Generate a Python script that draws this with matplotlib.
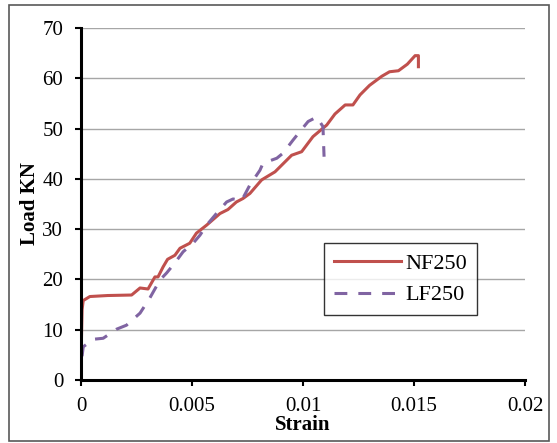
import matplotlib.pyplot as plt
from matplotlib.patches import Rectangle

# NF250 (solid red)
nf_strain = [0, 0.00002, 0.00005, 0.0001, 0.0004, 0.0012, 0.00228, 0.00266, 0.00302,
             0.00333, 0.00347, 0.0037, 0.0039, 0.00423, 0.00446, 0.0049, 0.0052,
             0.00566, 0.00626, 0.00662, 0.007, 0.0073, 0.00761, 0.00806, 0.00814,
             0.00874, 0.00949, 0.00994, 0.01045, 0.01107, 0.01144, 0.0119, 0.01225,
             0.01257, 0.0130, 0.01355, 0.0139, 0.0143, 0.0147, 0.01505, 0.0152, 0.0152]
nf_load = [0, 8, 14, 15.8, 16.6, 16.8, 16.9, 18.3, 18.1,
           20.5, 20.5, 22.5, 24, 24.8, 26.2, 27.2, 29.2,
           30.8, 33.1, 33.9, 35.4, 36.1, 37.1, 39.4, 39.8,
           41.4, 44.7, 45.4, 48.4, 50.7, 52.9, 54.7, 54.7,
           56.7, 58.6, 60.4, 61.3, 61.5, 62.8, 64.5, 64.5, 62.3]

# LF250 (dashed purple)
lf_strain = [0, 0.00003, 0.0001, 0.00055, 0.001, 0.0016, 0.00205, 0.00266, 0.0031,
             0.00356, 0.00386, 0.00423, 0.0046, 0.00505, 0.00536, 0.00566, 0.0061,
             0.00656, 0.00685, 0.00724, 0.00761, 0.00806, 0.0082, 0.00882, 0.0091,
             0.00955, 0.00986, 0.01023, 0.01062, 0.0109, 0.01095]
lf_load = [0, 4, 6.6, 8.1, 8.3, 10.1, 10.9, 13.3, 16.3,
           19.9, 21.3, 23.3, 25.5, 27.2, 28.8, 30.8, 33.1,
           35.4, 36.0, 35.7, 38.8, 41.7, 43.1, 44.1, 45.1,
           47.7, 49.4, 51.4, 52.3, 50.4, 44.4]

x_ticks = [0, 0.005, 0.01, 0.015, 0.02]
x_labels = ["0", "0.005", "0.01", "0.015", "0.02"]
y_ticks = [0, 10, 20, 30, 40, 50, 60, 70]

plt.rcParams["font.family"] = "Liberation Serif"

fig = plt.figure(figsize=(5.57, 4.43), dpi=100)
ax = fig.add_axes([0.1454, 0.1422, 0.7971, 0.7946])

# outer frame round the whole chart
fig.patches.append(Rectangle((0.016, 0.0045), 0.9696, 0.9842, transform=fig.transFigure,
                             fill=False, edgecolor="#595959", linewidth=1.2))

ax.plot(nf_strain, nf_load, color="#C0504D", linewidth=2.2, label="NF250")
ax.plot(lf_strain, lf_load, color="#8064A2", linewidth=2.2, dashes=(4.2, 3.6), label="LF250")

ax.set_xlim(0, 0.02)
ax.set_ylim(0, 70)
ax.set_xticks(x_ticks)
ax.set_xticklabels(x_labels)
ax.set_yticks(y_ticks)
ax.tick_params(labelsize=15, width=1.5, length=4.3, direction="out", color="black")
ax.tick_params(axis="x", pad=8)
ax.tick_params(axis="y", pad=8.5)
ax.grid(axis="y", color="#A6A6A6", linewidth=1.0)
ax.set_axisbelow(True)

for s in ["top", "right"]:
    ax.spines[s].set_visible(False)
for s in ["left", "bottom"]:
    ax.spines[s].set_linewidth(2.2)

ax.set_xlabel("Strain", fontsize=15, fontweight="bold", labelpad=-1)
ax.set_ylabel("Load KN", fontsize=15, fontweight="bold", labelpad=2)

leg = ax.legend(loc="upper left", bbox_to_anchor=(0.547, 0.389), borderaxespad=0,
                fontsize=16, frameon=True, fancybox=False, edgecolor="black",
                handlelength=3.0, handletextpad=0.2, borderpad=0.45, labelspacing=0.5)
leg.get_frame().set_linewidth(1.0)

fig.savefig("out.png", dpi=100)
